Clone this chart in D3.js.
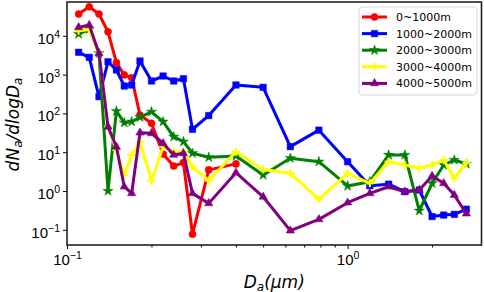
<!DOCTYPE html>
<html><head><meta charset="utf-8">
<script src="https://cdn.jsdelivr.net/npm/d3@7"></script>
<style>
body{margin:0;background:#fff}
svg{display:block;font-family:"DejaVu Sans",sans-serif}
</style>
</head><body>
<svg id="chart" width="484" height="292"></svg>
<script>
// ---- data ----
const diameters = [0.11, 0.12, 0.13, 0.14, 0.15, 0.16, 0.17, 0.182, 0.20, 0.22, 0.24, 0.26, 0.28, 0.32, 0.40, 0.50, 0.625, 0.79, 1.0, 1.2, 1.4, 1.6, 1.8, 2.0, 2.2, 2.4, 2.65];
const seriesNames = ["0~1000m", "1000~2000m", "2000~3000m", "3000~4000m", "4000~5000m"];
const alt0_1000 = [36500, 56000, 36500, 12700, 2030, 980, 830, 91, 55.6, 9.0, 4.4, 5.4, 0.077, 3.5, 5.0];
const alt1000_2000 = [3760, 2790, 270, 2140, 1316, 508, 540, 2240, 684, 920, 684, 784, 39, 88, 540, 470, 13.9, 37, 5.7, 1.37, 1.5, 0.96, 1.06, 0.22, 0.24, 0.25, 0.34];
const alt2000_3000 = [11100, 14700, 3540, 1.0, 115, 57.6, 61, 79.5, 110, 61, 25, 18.7, 9.4, 7.4, 8.0, 2.6, 7.0, 5.7, 1.35, 1.74, 8.5, 8.5, 0.31, 1.58, 4.68, 6.3, 4.97];
const alt3000_4000 = [13500, 14500, 3540, 45, 11.4, 2.6, 8.5, 18, 1.84, 13.8, 10.3, 10.3, 4.2, 1.84, 10.3, 3.6, 2.86, 0.61, 2.86, 1.58, 5.7, 4.68, 3.85, 4.68, 6.3, 2.12, 5.36];
const alt4000_5000 = [16500, 19000, 3540, 45, 13.8, 1.29, 0.87, 31.8, 30.7, 17, 8.5, 9.4, 0.87, 0.48, 2.96, 0.71, 0.095, 0.186, 0.5, 0.87, 1.29, 0.96, 1.06, 2.44, 1.58, 0.79, 0.26];
const yTickValues = [0.1, 1, 10, 100, 1000, 10000];
const xMajorTicks = [0.1, 1];
const xMinorTicks = [0.2, 0.3, 0.4, 0.5, 0.6, 0.7, 0.8, 0.9, 2];

const seriesValues = [alt0_1000, alt1000_2000, alt2000_3000, alt3000_4000, alt4000_5000];
const colors = ["#ff0000", "#0000ff", "#008000", "#ffff00", "#800080"];
const markers = ["circle", "square", "star", "plus", "triangle"];

// ---- layout ----
const L = 67, R = 481.5, T = 2, B = 245;
const svg = d3.select("#chart");
const x = d3.scaleLog().domain([0.1, 3.0]).range([L, R]);
const y = d3.scaleLog().domain([0.0406, 74300]).range([B, T]);

function markerPath(type) {
  switch (type) {
    case "circle": return d3.symbol().type(d3.symbolCircle).size(40)();
    case "square": return d3.symbol().type(d3.symbolSquare).size(42)();
    case "star": return d3.symbol().type(d3.symbolStar).size(32)();
    case "triangle": return d3.symbol().type(d3.symbolTriangle).size(30)();
    case "plus": return "M-4,0H4M0,-4V4";
  }
}

// ---- series ----
const line = d3.line().x(d => x(d[0])).y(d => y(d[1]));
const plot = svg.append("g");
seriesValues.forEach((vals, i) => {
  const pts = vals.map((v, j) => [diameters[j], v]);
  const g = plot.append("g");
  g.append("path").datum(pts)
    .attr("d", line).attr("fill", "none")
    .attr("stroke", colors[i]).attr("stroke-width", 3).attr("stroke-linejoin", "round");
  g.selectAll("path.m").data(pts).join("path").attr("class", "m")
    .attr("transform", d => `translate(${x(d[0])},${y(d[1])})`)
    .attr("d", markerPath(markers[i]))
    .attr("fill", markers[i] === "plus" ? "none" : colors[i])
    .attr("stroke", colors[i])
    .attr("stroke-width", markers[i] === "plus" ? 2 : 0.5);
});

// ---- axes ----
function powLabel(sel, d) {
  const e = Math.round(Math.log10(d));
  sel.text(null);
  sel.append("tspan").text("10");
  sel.append("tspan").attr("font-size", 10.5).attr("dy", -6)
    .text(e < 0 ? "\u2212" + (-e) : String(e));
}
const xAxis = svg.append("g").attr("transform", `translate(0,${B})`)
  .call(d3.axisBottom(x).tickValues(xMajorTicks).tickSize(4).tickPadding(3));
xAxis.selectAll(".tick text").attr("font-size", 15).attr("y", 20).attr("dy", 0)
  .attr("fill", "#000").each(function(d){ powLabel(d3.select(this), d); });
svg.append("g").attr("transform", `translate(0,${B})`)
  .call(d3.axisBottom(x).tickValues(xMinorTicks).tickSize(2.5).tickFormat(""));

const yAxis = svg.append("g").attr("transform", `translate(${L},0)`)
  .call(d3.axisLeft(y).tickValues(yTickValues).tickSize(4).tickPadding(3));
yAxis.selectAll(".tick text").attr("font-size", 15).attr("dy", 0).attr("y", 7.5)
  .attr("fill", "#000").each(function(d){ powLabel(d3.select(this), d); });

svg.selectAll(".domain").remove();
svg.selectAll(".tick line").attr("stroke", "#000").attr("stroke-width", 1);

// frame
svg.append("rect").attr("x", L).attr("y", T).attr("width", R - L).attr("height", B - T)
  .attr("fill", "none").attr("stroke", "#222").attr("stroke-width", 1.6);

// ---- axis labels ----
const xl = svg.append("text").attr("x", (L + R) / 2).attr("y", 287.5)
  .attr("text-anchor", "middle").attr("font-size", 17).attr("font-style", "italic");
xl.append("tspan").text("D");
xl.append("tspan").attr("font-size", 12).attr("dy", 3).text("a");
xl.append("tspan").attr("dy", -3).text("(\u03bcm)");

const yl = svg.append("text").attr("transform", `translate(19,${(T + B) / 2 + 1}) rotate(-90)`)
  .attr("text-anchor", "middle").attr("font-size", 17).attr("font-style", "italic");
yl.append("tspan").text("dN");
yl.append("tspan").attr("font-size", 12).attr("dy", 3).text("a");
yl.append("tspan").attr("dy", -3).text("/dlogD");
yl.append("tspan").attr("font-size", 12).attr("dy", 3).text("a");

// ---- legend ----
const lg = svg.append("g");
lg.append("rect").attr("x", 359).attr("y", 7).attr("width", 118).attr("height", 88)
  .attr("rx", 3).attr("fill", "#fff").attr("fill-opacity", 0.8)
  .attr("stroke", "#d6d6d6").attr("stroke-width", 1);
seriesNames.forEach((name, i) => {
  const cy = 17 + i * 16.6;
  lg.append("line").attr("x1", 362).attr("x2", 387).attr("y1", cy).attr("y2", cy)
    .attr("stroke", colors[i]).attr("stroke-width", 3);
  lg.append("path").attr("transform", `translate(374.5,${cy})`)
    .attr("d", markerPath(markers[i]))
    .attr("fill", markers[i] === "plus" ? "none" : colors[i])
    .attr("stroke", colors[i]).attr("stroke-width", markers[i] === "plus" ? 2 : 0.5);
  lg.append("text").attr("x", 396).attr("y", cy + 4).attr("font-size", 11)
    .attr("fill", "#000").text(name);
});
</script>
</body></html>
